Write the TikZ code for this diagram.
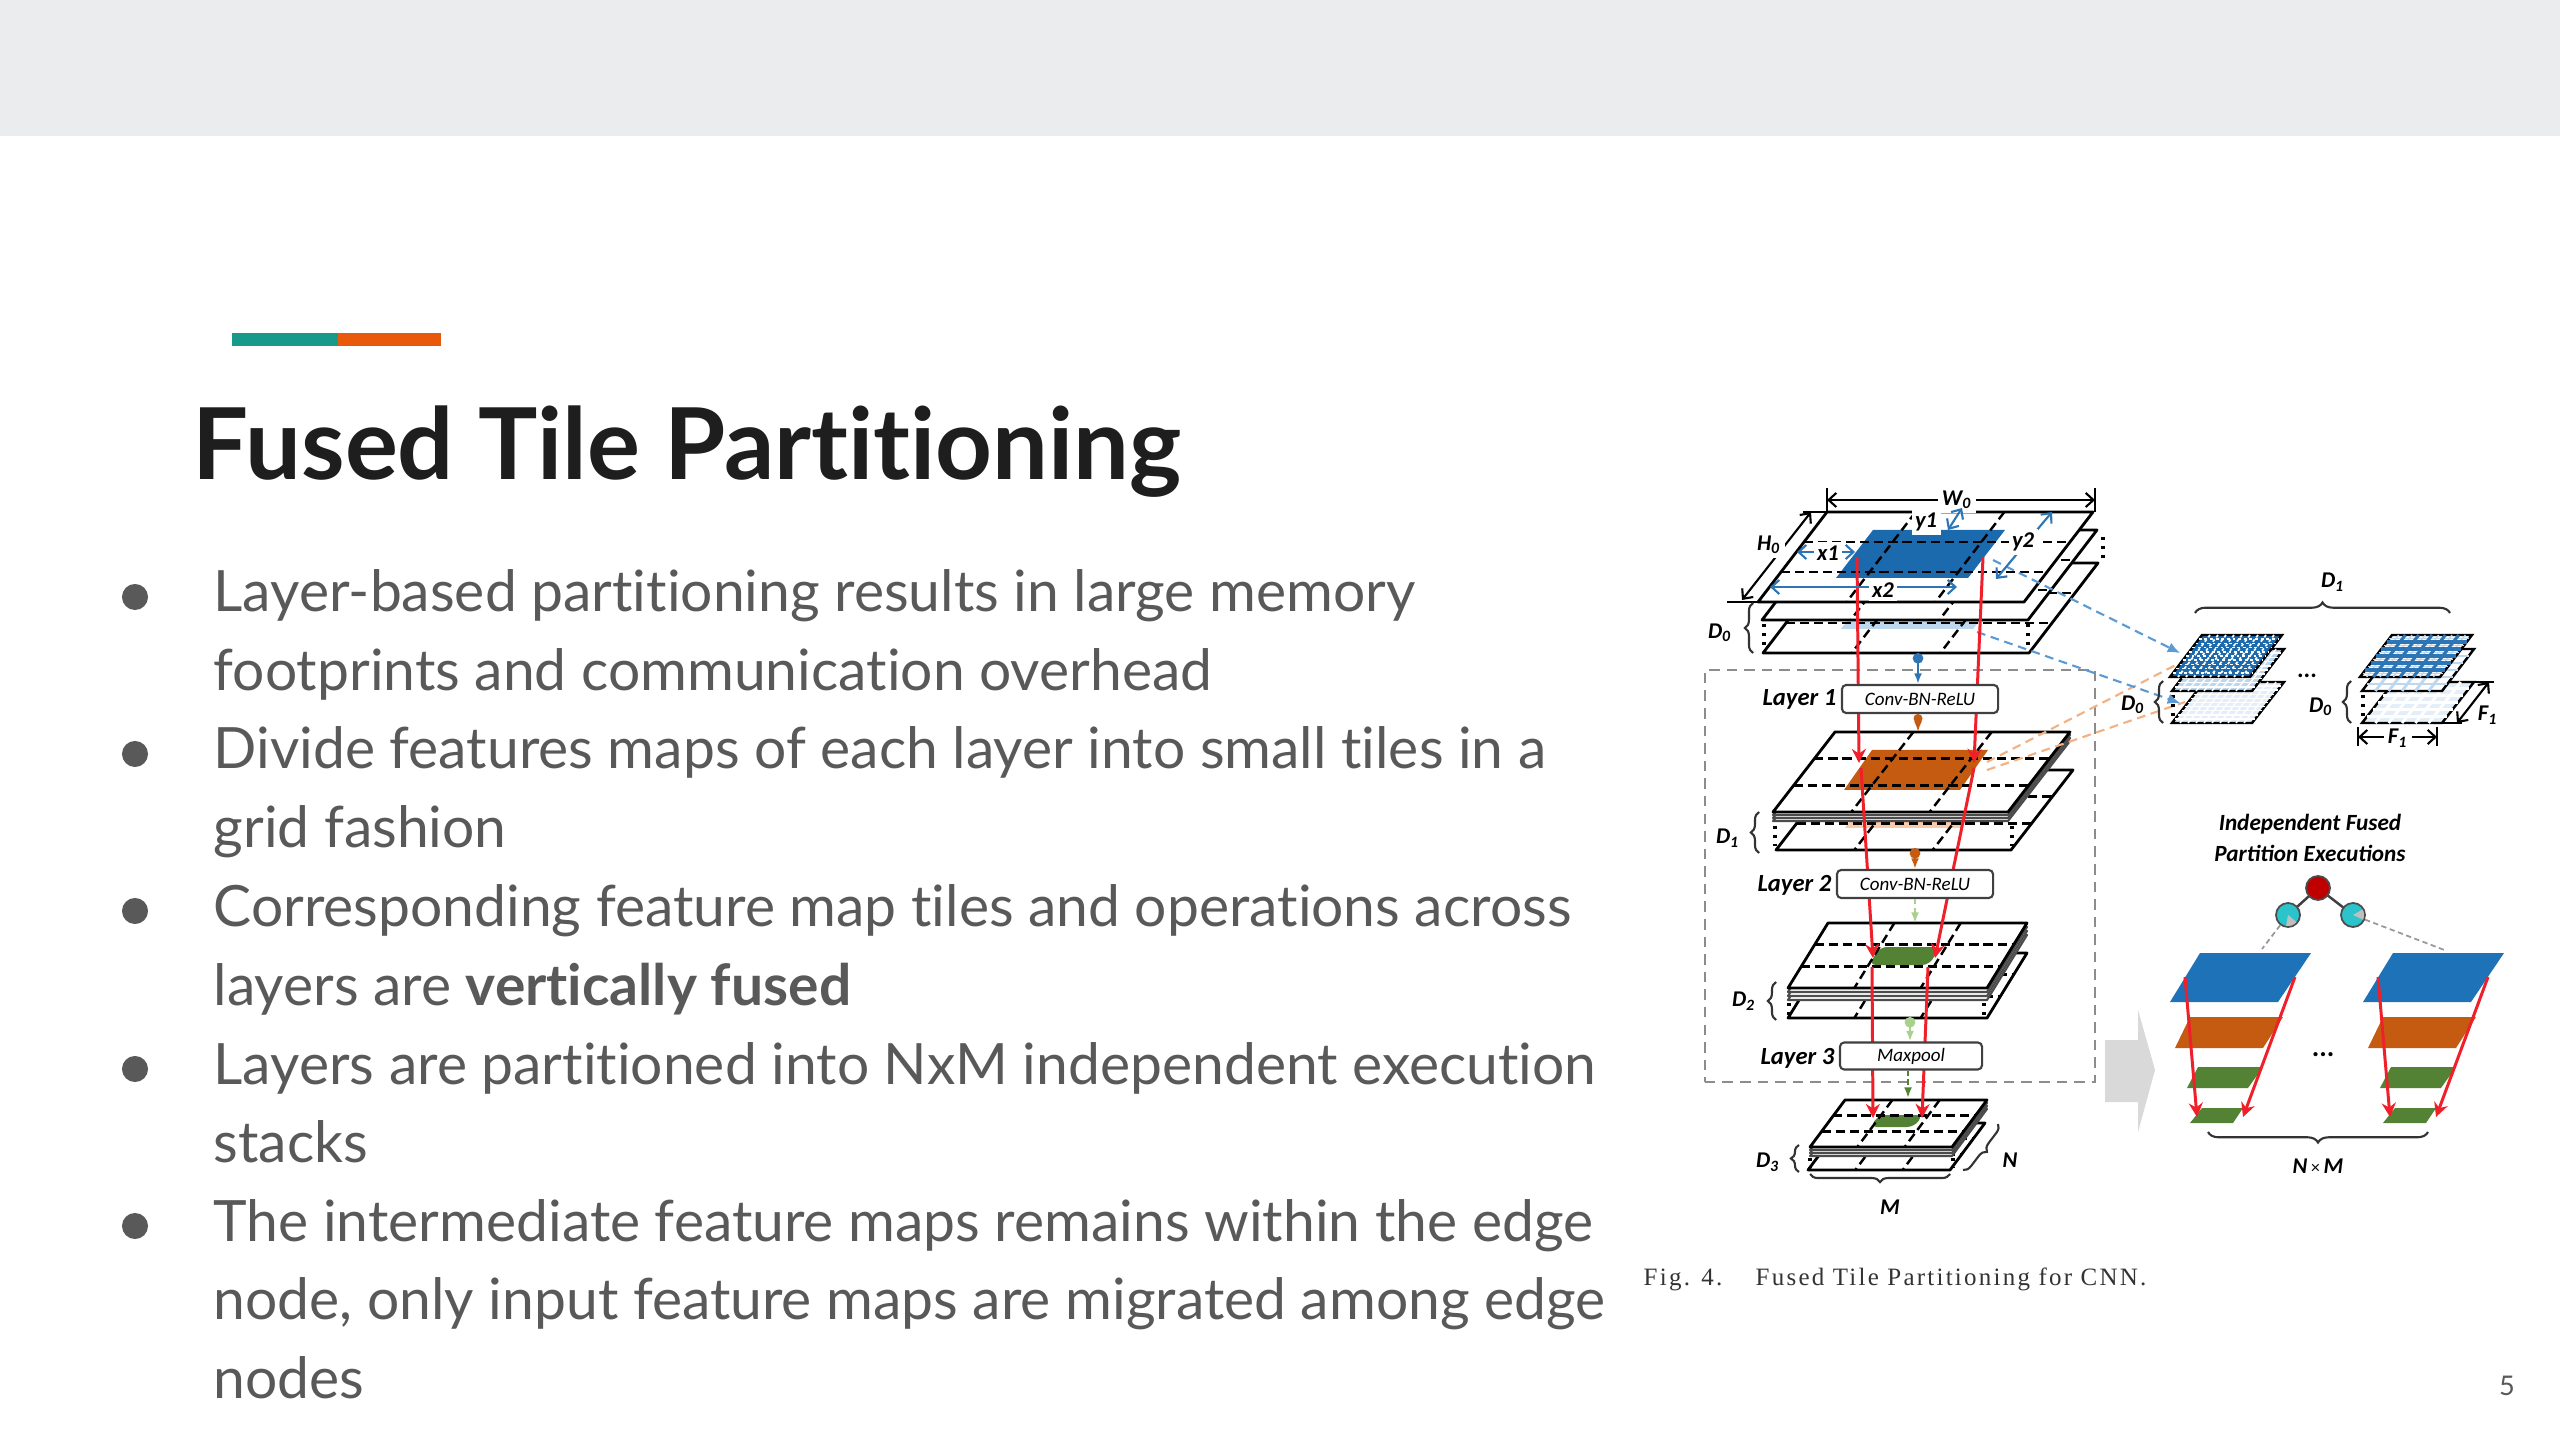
\documentclass[tikz,border=0pt]{standalone}
\usepackage{fontspec}
\setmainfont{Lato}[Ligatures={NoCommon}]
\newfontfamily\figfont{Carlito}
\newfontfamily\capfont[LetterSpace=9]{Liberation Serif}
\usetikzlibrary{arrows.meta,decorations.pathreplacing}
\definecolor{bandgray}{HTML}{EBECEE}
\definecolor{accteal}{HTML}{179A89}
\definecolor{accorange}{HTML}{E8590C}
\definecolor{titlecol}{HTML}{1E1E1E}
\definecolor{bodycol}{HTML}{595959}
\definecolor{tileblue}{HTML}{1B6AAE}
\definecolor{paleblue}{HTML}{BDD7EE}
\definecolor{paleblue2}{HTML}{E4EEF8}
\definecolor{tileorange}{HTML}{C55A11}
\definecolor{paleorange}{HTML}{F8CBAD}
\definecolor{tilegreen}{HTML}{548235}
\definecolor{palegreen}{HTML}{A9D18E}
\definecolor{figred}{HTML}{F0202A}
\definecolor{connblue}{HTML}{2E75B6}
\definecolor{dashblue}{HTML}{5B9BD5}
\definecolor{dashorange}{HTML}{F4B183}
\definecolor{boxgray}{HTML}{8C8C8C}
\definecolor{nodecyan}{HTML}{2BC4CB}
\definecolor{nodered}{HTML}{C00000}
\definecolor{execblue}{HTML}{1E72B8}
\definecolor{arrowgray}{HTML}{D9D9D9}
\definecolor{capcol}{HTML}{333333}
\newcommand\sheetd[6]{\filldraw[#6] (#1,#2) -- ++(#3,0) -- ++(-#5,#4) -- ++(-#3,0) -- cycle;}
\newcommand\sheetgrid[6]{\foreach \i in {1,2}{\draw[#6] ({#1-#5*\i/3},{#2+#4*\i/3}) -- ++(#3,0); \draw[#6] ({#1+#3*\i/3},#2) -- ++(-#5,#4);}}
\newcommand\fgrid[7]{\foreach \f in {#7}{\draw[#6] ({#1-#5*\f},{#2+#4*\f}) -- ++(#3,0); \draw[#6] ({#1+#3*\f},#2) -- ++(-#5,#4);}}
\begin{document}
\begin{tikzpicture}[x=0.01cm,y=-0.01cm,
  sheet/.style={fill=white,draw=black,line width=0.8pt,line join=round},
  thinsheet/.style={fill=white,draw=black!70,line width=0.6pt,line join=round},
  griddash/.style={draw=black,line width=0.7pt,dash pattern=on 2.6pt off 1.4pt},
  redarr/.style={draw=figred,line width=0.85pt,-{Stealth[length=4pt,width=4pt]}},
  lbox/.style={draw=black!75,fill=white,rounded corners=1.2pt,line width=0.6pt,inner sep=0pt,font=\figfont\itshape\fontsize{5.4pt}{6pt}\selectfont},
  lyr/.style={font=\figfont\bfseries\itshape\fontsize{7pt}{8pt}\selectfont,anchor=east,inner sep=0pt},
  dimlab/.style={font=\figfont\bfseries\itshape\fontsize{6.4pt}{7pt}\selectfont,inner sep=1pt},
  dimarr/.style={line width=0.6pt,{Straight Barb[length=2.2pt,width=4pt]}-{Straight Barb[length=2.2pt,width=4pt]}},
  bluedim/.style={dimarr,draw=connblue},
  bracel/.style={draw=black!80,line width=0.6pt,decorate,decoration={brace,amplitude=2.3pt}},
  bodytxt/.style={anchor=base west,inner sep=0pt,text=bodycol,font=\fontsize{16.2pt}{19pt}\selectfont},
  bdot/.style={circle,fill=bodycol,inner sep=0pt,minimum size=0.26cm},
  dotsep/.style={draw=black,line width=0.9pt,dash pattern=on 0.9pt off 1.6pt},
  tnode/.style={circle,draw=black!70,line width=0.5pt,minimum size=0.24cm,inner sep=0pt}]
\useasboundingbox (0,0) rectangle (2560,1440);
\fill[white] (0,0) rectangle (2560,1440);
\fill[bandgray] (0,0) rectangle (2560,136);
\fill[accteal] (232,333) rectangle (338,346);
\fill[accorange] (338,333) rectangle (441,346);
\node[anchor=base west,inner sep=0pt,text=titlecol,font=\bfseries\fontsize{28.2pt}{31pt}\selectfont] (title) at (192,480) {Fused Tile Partitioning};
% bullets
\node[bdot] (d1) at (135,597) {};
\node[bdot] (d2) at (135,754) {};
\node[bdot] (d3) at (135,911) {};
\node[bdot] (d4) at (135,1069) {};
\node[bdot] (d5) at (135,1226) {};
\node[bodytxt] (t1) at (213,612) {Layer-based partitioning results in large memory};
\node[bodytxt] (t2) at (213,691) {footprints and communication overhead};
\node[bodytxt] (t3) at (213,769) {Divide features maps of each layer into small tiles in a};
\node[bodytxt] (t4) at (213,848) {grid fashion};
\node[bodytxt] (t5) at (213,926) {Corresponding feature map tiles and operations across};
\node[bodytxt] (t6) at (213,1005) {layers are \textbf{vertically fused}};
\node[bodytxt] (t7) at (213,1084) {Layers are partitioned into NxM independent execution};
\node[bodytxt] (t8) at (213,1162) {stacks};
\node[bodytxt] (t9) at (213,1241) {The intermediate feature maps remains within the edge};
\node[bodytxt] (t10) at (213,1319) {node, only input feature maps are migrated among edge};
\node[bodytxt] (t11) at (213,1398) {nodes};
\node[text=bodycol,inner sep=0pt,font=\fontsize{7.7pt}{9pt}\selectfont] (pg) at (2507,1386) {5};
% ---------- figure ----------
\node[draw=boxgray,dash pattern=on 3pt off 2pt,line width=0.6pt,minimum width=3.9cm,minimum height=4.12cm,inner sep=0pt] (cont) at (1900,876) {};
\fill[arrowgray] (2105,1040) -- (2138,1040) -- (2138,1010) -- (2155,1070) -- (2138,1132) -- (2138,1102) -- (2105,1102) -- cycle;
% D0 stack
\sheetd{1832}{563}{266}{90}{69}{sheet}
\fill[paleblue] (1878,581) -- ++(132,0) -- ++(-37,48) -- ++(-132,0) -- cycle;
\sheetgrid{1832}{563}{266}{90}{69}{griddash}
\sheetd{1831}{530}{266}{90}{69}{sheet}
\sheetgrid{1831}{530}{266}{90}{69}{griddash}
\sheetd{1827}{512}{266}{90}{69}{sheet}
\fill[tileblue] (1873,530) -- ++(132,0) -- ++(-37,48) -- ++(-132,0) -- cycle;
\sheetgrid{1827}{512}{266}{90}{69}{griddash}
\draw[dotsep] (1764,624) -- (1764,650);
\draw[dotsep] (2028,624) -- (2028,650);
\draw[dotsep] (2103,537) -- (2103,560);
% D1 stack
\sheetd{1838}{770}{235}{80}{62}{sheet}
\fill[paleorange] (1873,788) -- ++(116,0) -- ++(-28,40) -- ++(-116,0) -- cycle;
\sheetgrid{1838}{770}{235}{80}{62}{griddash}
\foreach \o in {9,6,3}{\sheetd{1835}{732+\o}{235}{80}{62}{thinsheet}}
\sheetd{1835}{732}{235}{80}{62}{sheet}
\fill[tileorange] (1872,750) -- ++(116,0) -- ++(-28,40) -- ++(-116,0) -- cycle;
\sheetgrid{1835}{732}{235}{80}{62}{griddash}
\draw[dotsep] (1775,826) -- (1775,846);
\draw[dotsep] (2012,826) -- (2012,846);
% D2 stack
\sheetd{1828}{953}{199}{65}{40}{sheet}
\sheetgrid{1828}{953}{199}{65}{40}{griddash}
\foreach \o in {12,8,4}{\sheetd{1828}{923+\o}{199}{65}{40}{thinsheet}}
\sheetd{1828}{923}{199}{65}{40}{sheet}
\fill[tilegreen,rounded corners=2pt] (1880,947) -- ++(60,0) -- ++(-11,18) -- ++(-60,0) -- cycle;
\sheetgrid{1828}{923}{199}{65}{40}{griddash}
\draw[dotsep] (1789,1003) -- (1789,1016);
\draw[dotsep] (1984,1003) -- (1984,1016);
% D3 stack
\sheetd{1843}{1123}{142}{47}{35}{sheet}
\sheetgrid{1843}{1123}{142}{47}{35}{griddash}
\foreach \o in {9,6,3}{\sheetd{1845}{1100+\o}{142}{47}{35}{thinsheet}}
\sheetd{1845}{1100}{142}{47}{35}{sheet}
\fill[tilegreen,rounded corners=2pt] (1879,1115) -- ++(44,0) -- ++(-9,12) -- ++(-44,0) -- cycle;
\sheetgrid{1845}{1100}{142}{47}{35}{griddash}
\draw[dotsep] (1810,1158) -- (1810,1168);
\draw[dotsep] (1953,1158) -- (1953,1168);
% dashed links to filters
\coordinate (bA) at (1993,560); \coordinate (bB) at (1977,632);
\coordinate (fA) at (2180,653); \coordinate (fB) at (2180,703);
\coordinate (oA) at (1987,762); \coordinate (oB) at (1987,770);
\coordinate (gA) at (2205,650); \coordinate (gB) at (2185,702);
\draw[dashorange,line width=0.6pt,dash pattern=on 2.5pt off 1.6pt] (oA) -- (gA);
\draw[dashorange,line width=0.6pt,dash pattern=on 2.5pt off 1.6pt] (oB) -- (gB);
% filter stacks
\sheetd{2204}{682}{80}{41}{32}{fill=paleblue2,draw=black,line width=0.7pt}
\fgrid{2204}{682}{80}{41}{32}{white,line width=0.4pt}{0.1,0.2,0.3,0.4,0.5,0.6,0.7,0.8,0.9}
\draw[dotsep] (2173,695) -- (2173,718);
\sheetd{2204}{649}{80}{42}{32}{fill=paleblue,draw=black,line width=0.7pt}
\fgrid{2204}{649}{80}{42}{32}{white,line width=0.4pt}{0.1,0.2,0.3,0.4,0.5,0.6,0.7,0.8,0.9}
\sheetd{2202}{635}{80}{42}{32}{fill=tileblue,draw=black,line width=0.7pt}
\fgrid{2202}{635}{80}{42}{32}{white,line width=0.5pt,dash pattern=on 0.8pt off 0.8pt}{0.1,0.2,0.3,0.4,0.5,0.6,0.7,0.8,0.9}
\sheetd{2394}{682}{80}{41}{32}{fill=paleblue2,draw=black,line width=0.7pt}
\fgrid{2394}{682}{80}{41}{32}{white,line width=0.8pt}{0.1667,0.3333,0.5,0.6667,0.8333}
\draw[dotsep] (2363,695) -- (2363,718);
\sheetd{2394}{649}{80}{42}{32}{fill=white,draw=black,line width=0.7pt}
\fgrid{2394}{649}{80}{42}{32}{paleblue,line width=0.8pt}{0.1667,0.3333,0.5,0.6667,0.8333}
\sheetd{2392}{635}{80}{42}{32}{fill=white,draw=black,line width=0.7pt}
\fgrid{2392}{635}{80}{42}{32}{paleblue,line width=0.4pt}{0.0833,0.25,0.4167,0.5833,0.75,0.9167}
\fgrid{2392}{635}{80}{42}{32}{connblue,line width=0.9pt}{0.1667,0.3333,0.5,0.6667,0.8333}
\draw[dashblue,line width=0.6pt,dash pattern=on 2.5pt off 1.6pt,-{Latex[length=3.5pt,width=3pt]}] (bA) -- (fA);
\draw[dashblue,line width=0.6pt,dash pattern=on 2.5pt off 1.6pt,-{Latex[length=3.5pt,width=3pt]}] (bB) -- (fB);
% red fused lines
\draw[redarr] (1857,557) -- (1859,763);
\draw[redarr] (1983,557) -- (1974,763);
\draw[redarr] (1861,768) -- (1873,958);
\draw[redarr] (1974,768) -- (1935,958);
\draw[redarr] (1872,967) -- (1873,1118);
\draw[redarr] (1928,967) -- (1922,1118);
% layer boxes
\node[lbox,minimum width=1.56cm,minimum height=0.28cm] (L1) at (1920,699) {Conv-BN-ReLU};
\node[lbox,minimum width=1.56cm,minimum height=0.28cm] (L2) at (1915,884) {Conv-BN-ReLU};
\node[lbox,minimum width=1.42cm,minimum height=0.27cm] (L3) at (1911,1056) {Maxpool};
\node[lyr] (L1lab) at (1837,699) {Layer 1};
\node[lyr] (L2lab) at (1832,885) {Layer 2};
\node[lyr] (L3lab) at (1835,1058) {Layer 3};
% connectors
\coordinate (c0) at (1918,653); \coordinate (c1) at (1918,732);
\coordinate (c2) at (1915,848); \coordinate (c3) at (1915,923);
\coordinate (c4) at (1910,1017); \coordinate (c5) at (1908,1098);
\draw[connblue,line width=0.7pt,{Circle[length=3pt]}-{Latex[length=3pt]}] (c0) -- (c0 |- L1.north);
\draw[tileorange,line width=0.7pt,{Circle[length=2.5pt]}-{Latex[length=3pt]}] (c1 |- L1.south) -- (c1);
\draw[tileorange,line width=0.7pt,{Circle[length=3pt]}-{Latex[length=3pt]}] (c2) -- (c2 |- L2.north);
\draw[palegreen,line width=0.8pt,dash pattern=on 1.5pt off 1pt,-{Latex[length=3pt]}] (c3 |- L2.south) -- (c3);
\draw[palegreen,line width=0.8pt,dash pattern=on 1.5pt off 1pt,{Circle[length=3pt]}-{Latex[length=3pt]}] (c4) -- (c4 |- L3.north);
\draw[tilegreen,line width=0.8pt,dash pattern=on 1.5pt off 1pt,-{Latex[length=3pt]}] (c5 |- L3.south) -- (c5);
% dimensions on input
\draw[line width=0.6pt] (1827,488) -- (1827,512) (2095,488) -- (2095,512);
\draw[dimarr] (1827,500) -- (2095,500);
\node[dimlab,fill=white] (W0) at (1957,500) {W\textsubscript{0}};
\draw[line width=0.6pt] (1803,512) -- (1827,512) (1727,602) -- (1758,602);
\draw[dimarr] (1811,512) -- (1742,600);
\node[dimlab,fill=white] (H0) at (1769,545) {H\textsubscript{0}};
\draw[bluedim] (1797,552) -- (1855,552);
\node[dimlab,fill=white] (x1) at (1828,553) {x1};
\draw[bluedim] (1770,587) -- (1957,587);
\node[dimlab,fill=white] (x2) at (1883,590) {x2};
\draw[bluedim] (1962,508) -- (1948,530);
\node[dimlab,fill=white] (y1) at (1926,522) {y1};
\draw[bluedim] (2052,512) -- (1996,579);
\node[dimlab,fill=white] (y2) at (2023,542) {y2};
% braces and D labels
\draw[bracel] (1753,653) -- (1753,603);
\node[dimlab] (D0l) at (1720,633) {D\textsubscript{0}};
\draw[bracel] (1759,853) -- (1759,812);
\node[dimlab] (D1l) at (1728,838) {D\textsubscript{1}};
\draw[bracel] (1776,1020) -- (1776,982);
\node[dimlab] (D2l) at (1744,1001) {D\textsubscript{2}};
\draw[bracel] (1799,1172) -- (1799,1145);
\node[dimlab] (D3l) at (1768,1162) {D\textsubscript{3}};
\draw[bracel] (1950,1174) -- (1810,1174);
\node[dimlab] (Ml) at (1890,1207) {M};
\draw[bracel] (1998,1124) -- (1963,1170);
\node[dimlab] (Nl) at (2010,1160) {N};
% filter labels
\draw[bracel,decoration={brace,amplitude=3pt}] (2195,613) -- (2450,613);
\node[dimlab] (D1t) at (2333,582) {D\textsubscript{1}};
\draw[bracel] (2163,723) -- (2163,681);
\node[dimlab] (D0a) at (2133,705) {D\textsubscript{0}};
\draw[bracel] (2351,723) -- (2351,681);
\node[dimlab] (D0b) at (2321,707) {D\textsubscript{0}};
\node[font=\figfont\bfseries\fontsize{7pt}{8pt}\selectfont,inner sep=0pt] (fdots) at (2307,676) {...};
\draw[line width=0.6pt] (2358,727) -- (2358,746) (2437,727) -- (2437,746);
\draw[dimarr] (2358,737) -- (2437,737);
\node[dimlab,fill=white] (F1a) at (2398,738) {F\textsubscript{1}};
\draw[line width=0.6pt] (2474,682) -- (2494,682) (2442,723) -- (2462,723);
\draw[dimarr] (2489,682) -- (2457,723);
\node[dimlab] (F1b) at (2488,715) {F\textsubscript{1}};
% independent executions
\node[font=\figfont\bfseries\itshape\fontsize{6.6pt}{8.6pt}\selectfont,align=center,inner sep=0pt] (indep) at (2310,838) {Independent Fused\\Partition Executions};
\coordinate (rt) at (2318,888);
\draw[black!75,line width=0.7pt] (rt) -- (2288,915) (rt) -- (2353,915);
\node[tnode,fill=nodered] (root) at (rt) {};
\node[tnode,fill=nodecyan] (cl) at (2288,915) {};
\node[tnode,fill=nodecyan] (cr) at (2353,915) {};
\fill[black!25] (cl.center) -- ++(40:11) arc[start angle=40,end angle=100,radius=11] -- cycle;
\fill[black!25] (cr.center) -- ++(-30:11) arc[start angle=-30,end angle=25,radius=11] -- cycle;
\coordinate (sl) at (2262,949); \coordinate (sr) at (2447,951);
\draw[black!40,line width=0.5pt,dash pattern=on 1.5pt off 1pt] (cl) -- (sl);
\draw[black!40,line width=0.5pt,dash pattern=on 1.5pt off 1pt] (cr) -- (sr);
\foreach \dx in {0,193}{
\begin{scope}[shift={(\dx,0)}]
\fill[execblue] (2200,953) -- (2311,953) -- (2278,1002) -- (2170,1002) -- cycle;
\fill[tileorange] (2190,1017) -- (2283,1017) -- (2263,1048) -- (2175,1048) -- cycle;
\fill[tilegreen] (2198,1067) -- (2263,1067) -- (2248,1088) -- (2187,1088) -- cycle;
\fill[tilegreen] (2202,1108) -- (2243,1108) -- (2233,1123) -- (2190,1123) -- cycle;
\draw[redarr] (2185,977) -- (2197,1117);
\draw[redarr] (2295,977) -- (2243,1117);
\end{scope}}
\node[font=\figfont\bfseries\fontsize{8pt}{9pt}\selectfont,inner sep=0pt] (xdots) at (2323,1055) {...};
\draw[bracel,decoration={brace,amplitude=3pt}] (2428,1132) -- (2208,1132);
\node[dimlab] (NM) at (2318,1166) {N\,{\mdseries\upshape\fontsize{5pt}{6pt}\selectfont ×}\,M};
% caption
\node[anchor=base west,inner sep=0pt,text=capcol,font=\capfont\fontsize{7.1pt}{8pt}\selectfont] (cap1) at (1643,1285) {Fig. 4.};
\node[anchor=base west,inner sep=0pt,text=capcol,font=\capfont\fontsize{7.1pt}{8pt}\selectfont] (cap2) at (1755,1285) {Fused Tile Partitioning for CNN.};
\end{tikzpicture}
\end{document}
